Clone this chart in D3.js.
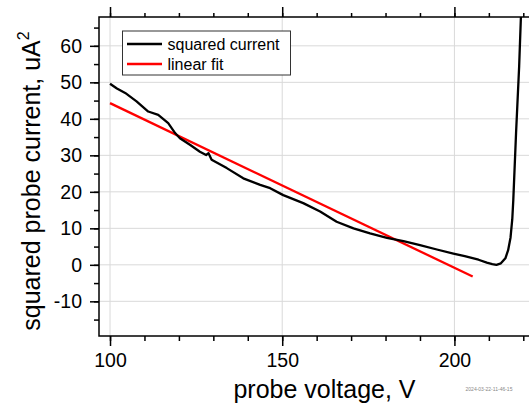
<!DOCTYPE html>
<html>
<head>
<meta charset="utf-8">
<script src="https://d3js.org/d3.v7.min.js"></script>
<style>
  body { margin: 0; background: #fff; }
  text { font-family: "Liberation Sans", Arial, sans-serif; fill: #000; }
</style>
</head>
<body>
<div id="chart"></div>
<script>
// measured squared current curve
var voltage = [100.0, 102.0, 104.4, 107.7, 111.1, 114.0, 116.9, 118.9, 120.3, 123.2,
  126.1, 127.9, 128.6, 129.5, 133.9, 138.7, 143.6, 146.5, 150.3, 156.1,
  161.0, 165.8, 170.7, 175.5, 180.4, 185.2, 190.0, 194.9, 199.7, 203.0,
  207.0, 209.4, 211.0, 212.2, 213.5, 214.8, 215.6, 216.3, 216.8, 217.1,
  217.9, 218.8, 219.3, 219.4];
var sqCurrent = [49.6, 48.3, 47.1, 44.8, 42.0, 41.1, 38.8, 36.1, 34.7, 32.9,
  31.0, 30.1, 30.6, 28.8, 26.5, 23.7, 21.9, 21.0, 19.1, 16.9,
  14.6, 11.8, 10.0, 8.6, 7.4, 6.5, 5.4, 4.2, 3.1, 2.4,
  1.4, 0.6, 0.2, 0.0, 0.4, 1.8, 4.0, 7.5, 12.5, 17.8,
  36.1, 54.4, 67.7, 70];
// linear fit end points
var fitVoltage = [100, 205.3];
var fitValue = [44.3, -3.2];

var xTicks = [100, 150, 200];
var yTicks = [-10, 0, 10, 20, 30, 40, 50, 60];
var seriesNames = ["squared current", "linear fit"];
var seriesColors = ["#000000", "#ff0000"];

var w = 529, h = 403;
var pLeft = 99, pTop = 17, pRight = 535, pBottom = 336;

var svg = d3.select("#chart").append("svg")
  .attr("width", w)
  .attr("height", h);

var x = d3.scaleLinear().domain([96.8, 223.4]).range([pLeft, pRight]);
var y = d3.scaleLinear().domain([-19.5, 67.9]).range([pBottom, pTop]);

svg.append("defs").append("clipPath").attr("id", "plot")
  .append("rect")
  .attr("x", pLeft).attr("y", pTop)
  .attr("width", pRight - pLeft).attr("height", pBottom - pTop);

// grid
svg.append("g").selectAll("line").data(xTicks).enter().append("line")
  .attr("x1", function(d) { return x(d); }).attr("x2", function(d) { return x(d); })
  .attr("y1", pTop).attr("y2", pBottom)
  .attr("stroke", "#d9d9d9").attr("stroke-width", 1);
svg.append("g").selectAll("line").data(yTicks).enter().append("line")
  .attr("y1", function(d) { return y(d); }).attr("y2", function(d) { return y(d); })
  .attr("x1", pLeft).attr("x2", pRight)
  .attr("stroke", "#d9d9d9").attr("stroke-width", 1);

// axes
var xMinor = d3.range(100, 221, 10);
var yMinor = d3.range(-15, 66, 5);
var plain = function(d) { return String(d); };

function styleAxis(g) {
  g.selectAll("path").remove();
  g.selectAll("line").attr("stroke", "#000").attr("stroke-width", 1.5);
  g.selectAll("text").style("font-size", "19.5px");
}

svg.append("g").attr("transform", "translate(0," + pBottom + ")")
  .call(d3.axisBottom(x).tickValues(xMinor).tickSize(5).tickFormat(""))
  .call(styleAxis);
svg.append("g").attr("transform", "translate(0," + pBottom + ")")
  .call(d3.axisBottom(x).tickValues(xTicks).tickSize(10).tickPadding(7).tickFormat(plain))
  .call(styleAxis);
svg.append("g").attr("transform", "translate(0," + pTop + ")")
  .call(d3.axisTop(x).tickValues(xMinor).tickSize(4).tickFormat(""))
  .call(styleAxis);
svg.append("g").attr("transform", "translate(0," + pTop + ")")
  .call(d3.axisTop(x).tickValues(xTicks).tickSize(10).tickFormat(""))
  .call(styleAxis);
svg.append("g").attr("transform", "translate(" + pLeft + ",0)")
  .call(d3.axisLeft(y).tickValues(yMinor).tickSize(5).tickFormat(""))
  .call(styleAxis);
svg.append("g").attr("transform", "translate(" + pLeft + ",0)")
  .call(d3.axisLeft(y).tickValues(yTicks).tickSize(9).tickPadding(8).tickFormat(plain))
  .call(styleAxis);

// frame
svg.append("rect")
  .attr("x", pLeft).attr("y", pTop)
  .attr("width", pRight - pLeft).attr("height", pBottom - pTop)
  .attr("fill", "none").attr("stroke", "#000").attr("stroke-width", 1.5);

// data
var line = d3.line()
  .x(function(d) { return x(d[0]); })
  .y(function(d) { return y(d[1]); });

var plot = svg.append("g").attr("clip-path", "url(#plot)");
plot.append("path")
  .datum(d3.zip(fitVoltage, fitValue))
  .attr("d", line)
  .attr("fill", "none").attr("stroke", seriesColors[1]).attr("stroke-width", 2.3);
plot.append("path")
  .datum(d3.zip(voltage, sqCurrent))
  .attr("d", line)
  .attr("fill", "none").attr("stroke", seriesColors[0]).attr("stroke-width", 2.3)
  .attr("stroke-linejoin", "round");

// legend
var lg = svg.append("g");
lg.append("rect")
  .attr("x", 122.5).attr("y", 31)
  .attr("width", 168).attr("height", 44)
  .attr("fill", "#fff").attr("stroke", "#333").attr("stroke-width", 1);
seriesNames.forEach(function(name, i) {
  var yy = 44 + i * 20;
  lg.append("line")
    .attr("x1", 127).attr("x2", 162)
    .attr("y1", yy).attr("y2", yy)
    .attr("stroke", seriesColors[i]).attr("stroke-width", 2.3);
  lg.append("text")
    .attr("x", 167.5).attr("y", yy + 5.5)
    .style("font-size", "16px")
    .text(name);
});

// axis titles
svg.append("text")
  .attr("x", 324.5).attr("y", 398)
  .attr("text-anchor", "middle")
  .style("font-size", "25px")
  .text("probe voltage, V");

var yl = svg.append("text")
  .attr("transform", "translate(39.5,181) rotate(-90)")
  .attr("text-anchor", "middle")
  .style("font-size", "25px");
yl.append("tspan").text("squared probe current, uA");
yl.append("tspan").attr("dy", -11).style("font-size", "16px").text("2");

svg.append("text")
  .attr("x", 489).attr("y", 391)
  .attr("text-anchor", "middle")
  .style("font-size", "5px")
  .style("fill", "#888")
  .text("2024-03-22-11-46-15");
</script>
</body>
</html>
